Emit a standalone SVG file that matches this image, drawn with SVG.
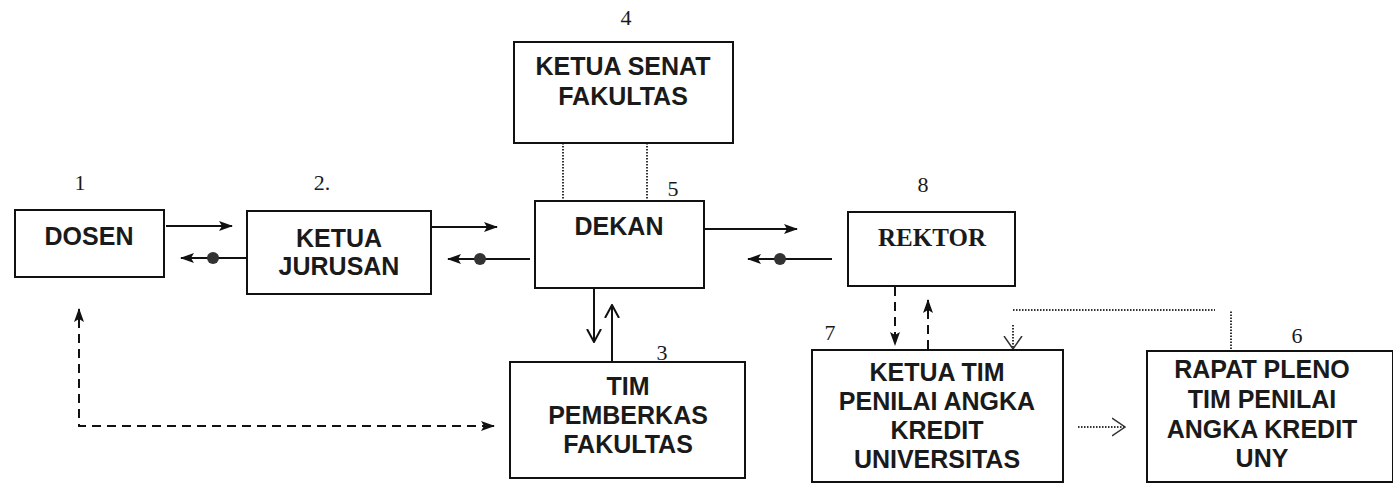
<svg xmlns="http://www.w3.org/2000/svg" width="1393" height="484" viewBox="0 0 1393 484">
<defs>
<style>
.box{fill:#fff;stroke:#111;stroke-width:2}
.t{font-family:"Liberation Sans",Arial,sans-serif;font-weight:bold;font-size:25px;fill:#1a1a1a;text-anchor:middle}
.ts{font-family:"Liberation Serif","Times New Roman",serif;font-weight:bold;font-size:25px;fill:#1a1a1a;text-anchor:middle}
.n{font-family:"Liberation Serif","Times New Roman",serif;font-size:22px;fill:#1a1a1a;text-anchor:middle}
.solid{stroke:#111;stroke-width:2;fill:none}
.dash{stroke:#111;stroke-width:2;fill:none;stroke-dasharray:9 6}
.dot{stroke:#333;stroke-width:2;fill:none;stroke-dasharray:1.5 1.5}
.bullet{fill:#333}
</style>
<marker id="arr" viewBox="0 0 14 10" refX="13" refY="5" markerWidth="14" markerHeight="10" markerUnits="userSpaceOnUse" orient="auto">
<path d="M0,0 L14,5 L0,10 L3,5 Z" fill="#111"/>
</marker>
<marker id="open" viewBox="0 0 14 16" refX="13" refY="8" markerWidth="14" markerHeight="16" markerUnits="userSpaceOnUse" orient="auto">
<path d="M0,1 L13,8 L0,15" fill="none" stroke="#111" stroke-width="2"/>
</marker>
<marker id="openthin" viewBox="0 0 14 20" refX="13" refY="10" markerWidth="14" markerHeight="20" markerUnits="userSpaceOnUse" orient="auto">
<path d="M0,1 L13,10 L0,19" fill="none" stroke="#333" stroke-width="1.5"/>
</marker>
</defs>
<rect width="1393" height="484" fill="#fff"/>

<g id="connectors">
<line class="solid" x1="166" y1="226" x2="232" y2="226" marker-end="url(#arr)"/>
<line class="solid" x1="247" y1="258" x2="181" y2="258" marker-end="url(#arr)"/>
<circle class="bullet" cx="213" cy="258" r="6"/>
<line class="solid" x1="432" y1="227" x2="497" y2="227" marker-end="url(#arr)"/>
<line class="solid" x1="530" y1="259" x2="448" y2="259" marker-end="url(#arr)"/>
<circle class="bullet" cx="480" cy="259" r="6"/>
<line class="solid" x1="704" y1="229" x2="797" y2="229" marker-end="url(#arr)"/>
<line class="solid" x1="832" y1="259" x2="748" y2="259" marker-end="url(#arr)"/>
<circle class="bullet" cx="780" cy="259" r="6"/>
<line class="dot" x1="563" y1="143" x2="563" y2="201"/>
<line class="dot" x1="647" y1="143" x2="647" y2="201"/>
<line class="solid" x1="594" y1="288" x2="594" y2="342" marker-end="url(#open)"/>
<line class="solid" x1="612" y1="362" x2="612" y2="305" marker-end="url(#open)"/>
<path class="dash" d="M79,319 L79,426 L483,426"/>
<line class="solid" x1="79" y1="322" x2="79" y2="309" marker-end="url(#arr)"/>
<line class="solid" x1="482" y1="426" x2="494" y2="426" marker-end="url(#arr)"/>
<line class="dash" x1="895" y1="287" x2="895" y2="345" marker-end="url(#arr)"/>
<line class="dash" x1="928" y1="349" x2="928" y2="300" marker-end="url(#arr)"/>
<path class="dot" d="M1231,349 L1231,310"/>
<path class="dot" d="M1013,310 L1215,310"/>
<line class="dot" x1="1013" y1="325" x2="1013" y2="349" marker-end="url(#openthin)"/>
<line class="dot" x1="1078" y1="427" x2="1125" y2="427" marker-end="url(#openthin)"/>
</g>

<g id="dosen">
<rect class="box" x="15" y="210" width="149" height="67"/>
<text class="t" x="89" y="245">DOSEN</text>
<text class="n" x="80" y="190">1</text>
</g>

<g id="ketua-jurusan">
<rect class="box" x="247" y="211" width="184" height="83"/>
<text class="t" x="339" y="247">KETUA</text>
<text class="t" x="339" y="275">JURUSAN</text>
<text class="n" x="322" y="190">2.</text>
</g>

<g id="ketua-senat">
<rect class="box" x="514" y="42" width="219" height="101"/>
<text class="t" x="623" y="75">KETUA SENAT</text>
<text class="t" x="623" y="105">FAKULTAS</text>
<text class="n" x="626" y="25">4</text>
</g>

<g id="dekan">
<rect class="box" x="535" y="201" width="169" height="87"/>
<text class="t" x="619" y="235">DEKAN</text>
<text class="n" x="673" y="196">5</text>
</g>

<g id="rektor">
<rect class="box" x="848" y="212" width="167" height="74"/>
<text class="ts" x="932" y="246">REKTOR</text>
<text class="n" x="923" y="192">8</text>
</g>

<g id="tim-pemberkas">
<rect class="box" x="510" y="362" width="235" height="116"/>
<text class="t" x="628" y="395">TIM</text>
<text class="t" x="628" y="424">PEMBERKAS</text>
<text class="t" x="628" y="453">FAKULTAS</text>
<text class="n" x="662" y="360">3</text>
</g>

<g id="ketua-tim">
<rect class="box" x="812" y="350" width="251" height="132"/>
<text class="t" x="937" y="381">KETUA TIM</text>
<text class="t" x="937" y="410">PENILAI ANGKA</text>
<text class="t" x="937" y="439">KREDIT</text>
<text class="t" x="937" y="468">UNIVERSITAS</text>
<text class="n" x="830" y="340">7</text>
</g>

<g id="rapat-pleno">
<rect class="box" x="1147" y="351" width="246" height="131"/>
<text class="t" x="1262" y="378">RAPAT PLENO</text>
<text class="t" x="1262" y="408">TIM PENILAI</text>
<text class="t" x="1262" y="438">ANGKA KREDIT</text>
<text class="t" x="1262" y="467">UNY</text>
<text class="n" x="1297" y="343">6</text>
</g>
</svg>
